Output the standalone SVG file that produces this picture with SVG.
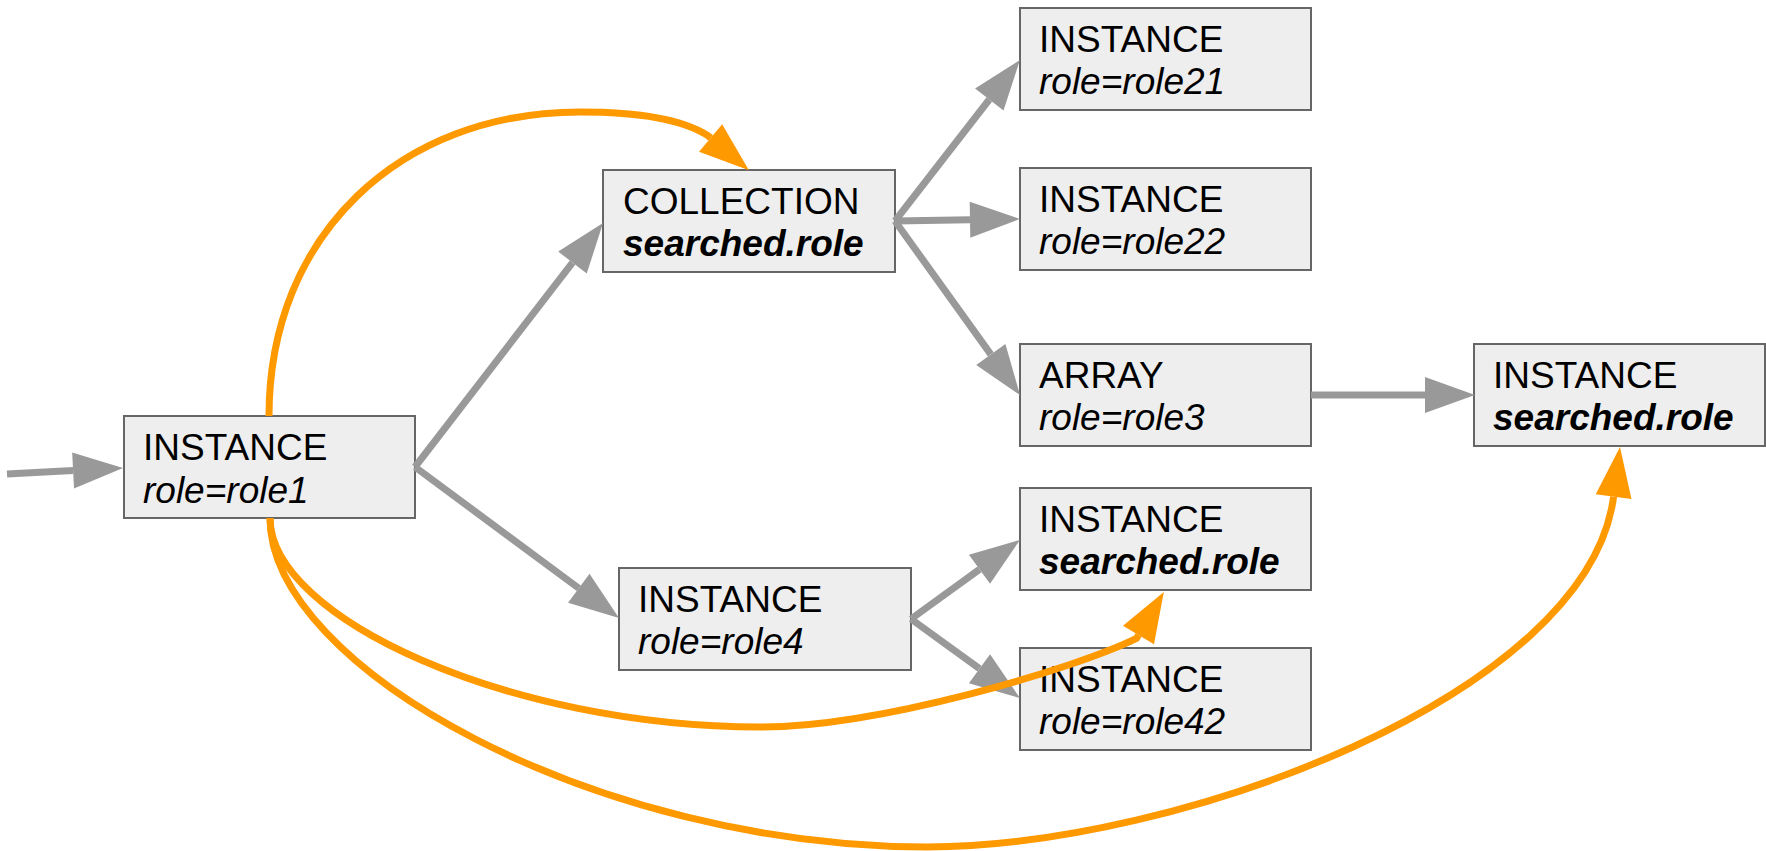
<svg xmlns="http://www.w3.org/2000/svg" width="1766" height="851" viewBox="0 0 1766 851">
<defs>
<style>
.box{fill:#eeeeee;stroke:#666666;stroke-width:2}
.t{font-family:"Liberation Sans",Arial,sans-serif;font-size:37px;fill:#000000}
.i{font-style:italic}
.b{font-style:italic;font-weight:bold}
.g{fill:none;stroke:#999999;stroke-width:7;marker-end:url(#ag)}
.o{fill:none;stroke:#ff9900;stroke-width:7;marker-end:url(#ao)}
</style>
<marker id="ag" markerUnits="userSpaceOnUse" markerWidth="50" markerHeight="36" refX="0" refY="18" orient="auto" overflow="visible">
<path d="M0,0 L50,18 L0,36 Z" fill="#999999"/>
</marker>
<marker id="ao" markerUnits="userSpaceOnUse" markerWidth="50" markerHeight="36" refX="0" refY="18" orient="auto" overflow="visible">
<path d="M0,0 L50,18 L0,36 Z" fill="#ff9900"/>
</marker>
</defs>
<rect width="1766" height="851" fill="#ffffff"/>
<g id="n-role1">
<rect class="box" x="124" y="416" width="291" height="102"/>
<text class="t" x="143" y="460">INSTANCE</text>
<text class="t i" x="143" y="503">role=role1</text>
</g>
<g id="n-collection">
<rect class="box" x="603" y="170" width="292" height="102"/>
<text class="t" x="623" y="214">COLLECTION</text>
<text class="t b" x="623" y="256">searched.role</text>
</g>
<g id="n-role21">
<rect class="box" x="1020" y="8" width="291" height="102"/>
<text class="t" x="1039" y="52">INSTANCE</text>
<text class="t i" x="1039" y="94">role=role21</text>
</g>
<g id="n-role22">
<rect class="box" x="1020" y="168" width="291" height="102"/>
<text class="t" x="1039" y="212">INSTANCE</text>
<text class="t i" x="1039" y="254">role=role22</text>
</g>
<g id="n-array">
<rect class="box" x="1020" y="344" width="291" height="102"/>
<text class="t" x="1039" y="388">ARRAY</text>
<text class="t i" x="1039" y="430">role=role3</text>
</g>
<g id="n-final">
<rect class="box" x="1474" y="344" width="291" height="102"/>
<text class="t" x="1493" y="388">INSTANCE</text>
<text class="t b" x="1493" y="430">searched.role</text>
</g>
<g id="n-role4">
<rect class="box" x="619" y="568" width="292" height="102"/>
<text class="t" x="638" y="612">INSTANCE</text>
<text class="t i" x="638" y="654">role=role4</text>
</g>
<g id="n-searched">
<rect class="box" x="1020" y="488" width="291" height="102"/>
<text class="t" x="1039" y="532">INSTANCE</text>
<text class="t b" x="1039" y="574">searched.role</text>
</g>
<g id="n-role42">
<rect class="box" x="1020" y="648" width="291" height="102"/>
<text class="t" x="1039" y="692">INSTANCE</text>
<text class="t i" x="1039" y="734">role=role42</text>
</g>
<g id="connectors">
<path class="g" d="M7,474 L73.1,470.6"/>
<path class="g" d="M415,467 L572.5,262.6"/>
<path class="g" d="M415,467 L578.8,588.3"/>
<path class="g" d="M895,221 L989.3,99.5"/>
<path class="g" d="M895,221 L970,219.8"/>
<path class="g" d="M895,221 L990.8,354.4"/>
<path class="g" d="M1311,395 L1425,395"/>
<path class="g" d="M911,619 L979.5,569.3"/>
<path class="g" d="M911,619 L979.5,668.7"/>
<path class="o" d="M269,416 C269,235 400,112 580,112 C630,112 680,118 707.5,135.4 L710.6,138"/>
<path class="o" d="M270,518 C270,618 510,727 760,727 C880,727 1076.5,668 1136.5,638.4 L1138.5,635"/>
<path class="o" d="M270,518 C270,668 597,847 927,847 C1177,847 1588,695 1613.6,496.6"/>
</g>
</svg>
